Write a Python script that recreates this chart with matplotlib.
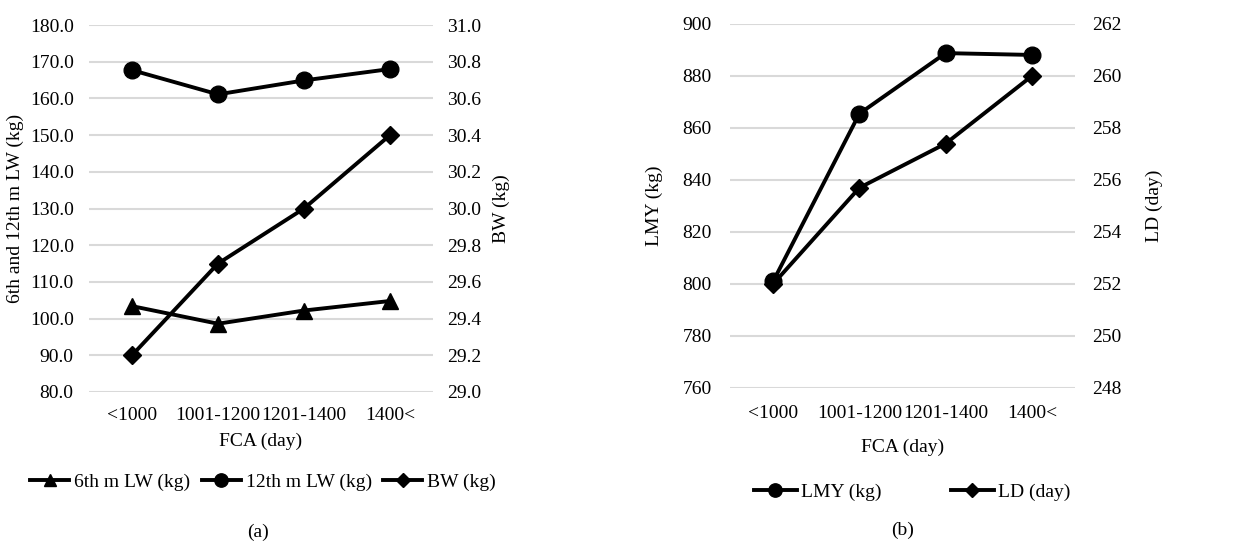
import matplotlib
matplotlib.use("Agg")
import matplotlib.pyplot as plt
from matplotlib.ticker import FormatStrFormatter

plt.rcParams['font.family'] = ['Liberation Serif', 'DejaVu Serif']
plt.rcParams['font.size'] = 14

# categories (first calving age)
fca = ['<1000', '1001-1200', '1201-1400', '1400<']

# panel (a)
lw6 = [103.4, 98.6, 102.2, 104.8]
lw12 = [167.7, 161.1, 164.9, 168.0]
bw = [29.2, 29.7, 30.0, 30.4]

# panel (b)
lmy = [801.0, 865.5, 888.8, 888.1]
ld = [252.0, 255.7, 257.4, 260.0]

grid_col = '#d9d9d9'
x = list(range(len(fca)))


def style_axes(ax, ax2):
    for a in (ax, ax2):
        for s in a.spines.values():
            s.set_visible(False)
        a.tick_params(length=0)
    ax.set_xlim(-0.5, len(fca) - 0.5)
    ax.set_xticks(x)
    ax.set_xticklabels(fca)
    ax.yaxis.grid(True, color=grid_col, linewidth=1.5)
    ax.set_axisbelow(True)


fig = plt.figure(figsize=(12.5, 5.42), dpi=100)

# ---- (a) ----
ax = fig.add_axes([89 / 1250, 150 / 542, 344 / 1250, 367 / 542])
ax2 = ax.twinx()
style_axes(ax, ax2)
ax.set_ylim(80, 180)
ax.set_yticks(range(80, 181, 10))
ax.yaxis.set_major_formatter(FormatStrFormatter('%.1f'))
ax2.set_ylim(29.0, 31.0)
ax2.set_yticks([29.0 + 0.2 * i for i in range(11)])
ax2.yaxis.set_major_formatter(FormatStrFormatter('%.1f'))
ax.tick_params(axis='x', pad=11)
ax.tick_params(axis='y', pad=11)
ax2.tick_params(axis='y', pad=10)

h1, = ax.plot(x, lw6, color='black', lw=2.8, marker='^', markersize=11, label='6th m LW (kg)')
h2, = ax.plot(x, lw12, color='black', lw=2.8, marker='o', markersize=12, label='12th m LW (kg)')
h3, = ax2.plot(x, bw, color='black', lw=2.8, marker='D', markersize=9, label='BW (kg)')

ax.set_ylabel('6th and 12th m LW (kg)', labelpad=4)
ax2.set_ylabel('BW (kg)', labelpad=8)
ax.set_xlabel('FCA (day)', labelpad=6)

fig.legend(handles=[h1, h2, h3], loc='center', bbox_to_anchor=(263 / 1250, 1 - 482 / 542),
           ncol=3, frameon=False, handlelength=2.0, handletextpad=0.25, columnspacing=0.6,
           markerscale=0.8)
fig.text(258 / 1250, 1 - 532 / 542, '(a)', ha='center', va='center')

# ---- (b) ----
bx = fig.add_axes([730 / 1250, 154 / 542, 345 / 1250, 364 / 542])
bx2 = bx.twinx()
style_axes(bx, bx2)
bx.set_ylim(760, 900)
bx.set_yticks(range(760, 901, 20))
bx2.set_ylim(248, 262)
bx2.set_yticks(range(248, 263, 2))
bx.tick_params(axis='x', pad=12)
bx.tick_params(axis='y', pad=13)
bx2.tick_params(axis='y', pad=12)

g1, = bx.plot(x, lmy, color='black', lw=2.8, marker='o', markersize=12, label='LMY (kg)')
g2, = bx2.plot(x, ld, color='black', lw=2.8, marker='D', markersize=9, label='LD (day)')

bx.set_ylabel('LMY (kg)', labelpad=14)
bx2.set_ylabel('LD (day)', labelpad=18)
bx.set_xlabel('FCA (day)', labelpad=12)

fig.legend(handles=[g1, g2], loc='center', bbox_to_anchor=(912 / 1250, 1 - 492 / 542),
           ncol=2, frameon=False, handlelength=2.2, handletextpad=0.2, columnspacing=3.6,
           markerscale=0.8)
fig.text(903 / 1250, 1 - 530 / 542, '(b)', ha='center', va='center')

fig.savefig('out.png', dpi=100)
